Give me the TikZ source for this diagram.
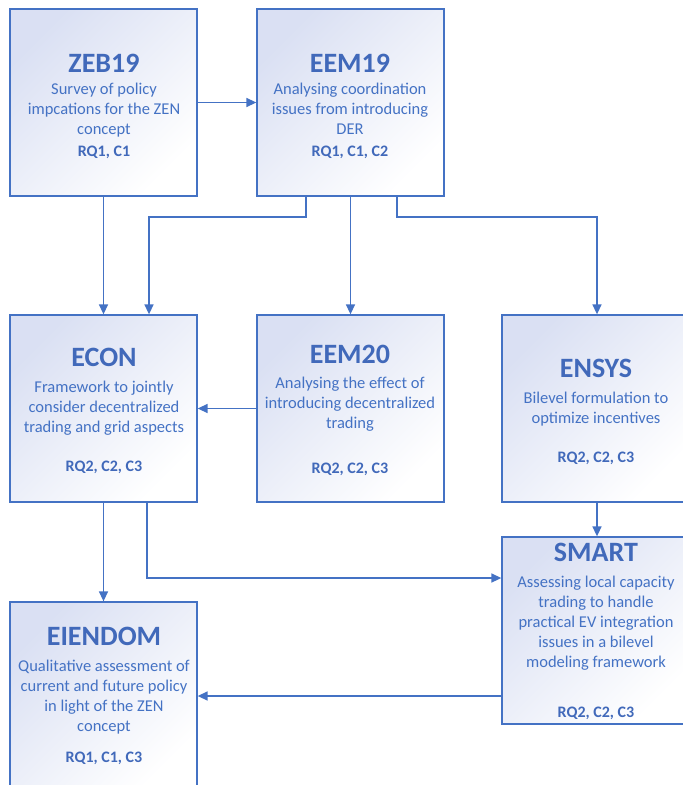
\documentclass[tikz,border=0pt]{standalone}
\usepackage{fontspec}
\setmainfont{Carlito}
\usetikzlibrary{arrows.meta}
\definecolor{cblue}{HTML}{4472C4}
\definecolor{ctitle}{HTML}{4169BA}
\definecolor{lav}{HTML}{DAE0F3}
\newcommand{\fs}{\rule{0pt}{14pt}}
\tikzset{
  box/.style={draw=cblue, line width=1.3pt, minimum width=187pt, minimum height=187pt,
    inner sep=0pt, top color=lav, bottom color=white, shading angle=45},
  ttl/.style={font=\fontsize{28}{32}\selectfont\bfseries, text=ctitle, anchor=base, inner sep=0pt},
  body/.style={font=\fontsize{16.5}{20}\selectfont, text=cblue, align=center, anchor=north, inner sep=0pt},
  rq/.style={font=\fontsize{16}{20}\selectfont\bfseries, text=ctitle, anchor=base, inner sep=0pt},
  arr/.style={draw=cblue, line width=1.5pt, -{Triangle[length=10pt, width=9pt]}}
}
\begin{document}
\begin{tikzpicture}[x=1pt, y=-1pt]
\useasboundingbox (0,0) rectangle (683,785);
\clip (0,0) rectangle (683,785);

% boxes
\node[box] (zeb)   at (103.5,102.5) {};
\node[box] (eem19) at (350.5,102.5) {};
\node[box] (econ)  at (103.5,408.5) {};
\node[box] (eem20) at (350.5,408.5) {};
\node[box] (ensys) at (595.5,408.5) {};
\node[box] (smart) at (595.5,630.5) {};
\node[box] (eien)  at (103.5,695.5) {};

% ZEB19
\node[ttl]  (zebT) at (104,72) {ZEB19};
\node[body] (zebB) at (104,80) {\fs Survey of policy\\impcations for the ZEN\\concept};
\node[rq]   (zebR) at (104,156) {RQ1, C1};

% EEM19
\node[ttl]  (eem19T) at (350,72) {EEM19};
\node[body] (eem19B) at (350,80) {\fs Analysing coordination\\issues from introducing\\DER};
\node[rq]   (eem19R) at (350,156) {RQ1, C1, C2};

% ECON
\node[ttl]  (econT) at (104,366) {ECON};
\node[body] (econB) at (104,378) {\fs Framework to jointly\\consider decentralized\\trading and grid aspects};
\node[rq]   (econR) at (104,471) {RQ2, C2, C3};

% EEM20
\node[ttl]  (eem20T) at (350,363) {EEM20};
\node[body] (eem20B) at (350,374) {\fs Analysing the effect of\\introducing decentralized\\trading};
\node[rq]   (eem20R) at (350,473) {RQ2, C2, C3};

% ENSYS
\node[ttl]  (ensysT) at (596,377) {ENSYS};
\node[body] (ensysB) at (596,389) {\fs Bilevel formulation to\\optimize incentives};
\node[rq]   (ensysR) at (596,462) {RQ2, C2, C3};

% SMART
\node[ttl]  (smartT) at (596,561) {SMART};
\node[body] (smartB) at (596,573) {\fs Assessing local capacity\\trading to handle\\practical EV integration\\issues in a bilevel\\modeling framework};
\node[rq]   (smartR) at (596,717) {RQ2, C2, C3};

% EIENDOM
\node[ttl]  (eienT) at (104,645) {EIENDOM};
\node[body] (eienB) at (104,657) {\fs Qualitative assessment of\\current and future policy\\in light of the ZEN\\concept};
\node[rq]   (eienR) at (104,762) {RQ1, C1, C3};

% bend points
\coordinate (p1) at (306,217);
\coordinate (p2) at (149,217);
\coordinate (p3) at (397,217);
\coordinate (p4) at (597,217);
\coordinate (p5) at (147,578);
\coordinate (p6) at (597,0);
\coordinate (p7) at (0,696);

% connectors
\draw[arr] (zeb.east) -- (eem19.west);
\draw[arr] (zeb.south) -- (econ.north);
\draw[arr] (eem19.south -| p1) -- (p1) -- (p2) -- (econ.north -| p2);
\draw[arr] (eem19.south) -- (eem20.north);
\draw[arr] (eem19.south -| p3) -- (p3) -- (p4) -- (ensys.north -| p4);
\draw[arr] (eem20.west) -- (econ.east);
\draw[arr] (econ.south) -- (eien.north);
\draw[arr] (econ.south -| p5) -- (p5) -- (smart.west |- p5);
\draw[arr] (ensys.south -| p6) -- (smart.north -| p6);
\draw[arr] (smart.west |- p7) -- (eien.east |- p7);
\end{tikzpicture}
\end{document}
